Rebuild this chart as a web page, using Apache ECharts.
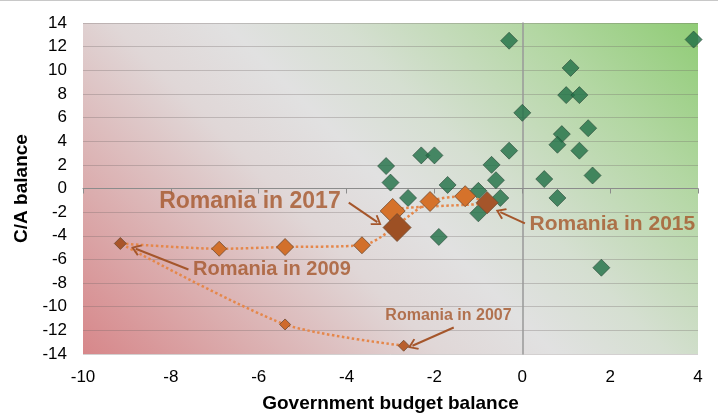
<!DOCTYPE html>
<html>
<head>
<meta charset="utf-8">
<script src="https://cdn.jsdelivr.net/npm/echarts@6/dist/echarts.min.js"></script>
<style>
	html, body { margin: 0; padding: 0; background: #fff; }
	#chart { width: 718px; height: 418px; }
</style>
</head>
<body>
<div id="chart"></div>
<script>
// other countries (budget balance, C/A balance)
const otherX = [-0.3, 3.9, 1.1, 1.0, 1.3, 0.0, 1.5, 0.9, 0.8, 1.3, -0.3, 1.6, 0.5, 0.8,
	-3.1, -2.3, -2.0, -0.7, -3.0, -1.7, -0.6, -2.6, -1.0, -0.5, -1.0, -1.9, 1.8]
const otherY = [12.5, 12.6, 10.2, 7.9, 7.9, 6.4, 5.1, 4.6, 3.7, 3.2, 3.2, 1.1, 0.8, -0.8,
	1.9, 2.8, 2.8, 2.0, 0.5, 0.3, 0.7, -0.8, -0.2, -0.8, -2.1, -4.1, -6.7]

// Romania 2007..2017
const romaniaYears = [2007, 2008, 2009, 2010, 2011, 2012, 2013, 2014, 2015, 2016, 2017]
const romaniaX = [-2.7, -5.4, -9.15, -6.9, -5.4, -3.65, -2.1, -1.3, -0.8, -2.95, -2.85]
const romaniaY = [-13.3, -11.5, -4.65, -5.1, -4.95, -4.8, -1.1, -0.65, -1.2, -1.9, -3.3]

const xTicks = { min: -10, max: 4, interval: 2 }
const yTicks = { min: -14, max: 14, interval: 2 }

// marker look per year
const romaniaSize = [11, 11, 12, 15, 17, 17, 20, 21, 22, 25, 28]
const romaniaColor = ["#b9602e", "#cf6a2c", "#a9552a", "#d2702b", "#d2702b", "#d2702b",
	"#d5722b", "#d5722b", "#a5552a", "#d5722b", "#9d5024"]

// callouts: label text, label centre, arrow start, arrow end (data coords)
const notes = [
	{ text: "Romania in 2017", at: [-6.2, -1.1], from: [-3.95, -1.2], to: [-3.3, -2.85], size: 23 },
	{ text: "Romania in 2015", at: [2.05, -3.05], from: [0.06, -2.95], to: [-0.5, -2.0], size: 21 },
	{ text: "Romania in 2009", at: [-5.7, -6.85], from: [-7.6, -6.85], to: [-8.8, -5.1], size: 20 },
	{ text: "Romania in 2007", at: [-1.68, -10.72], from: [-1.56, -11.76], to: [-2.5, -13.3], size: 16 }
]

const chart = echarts.init(document.getElementById("chart"))
const FONT = "'Liberation Sans', Arial, sans-serif"
const NOTE = "#a5562b"
const chevron = "path://M5,0 L10,7 L8.8,8 L5,2.6 L1.2,8 L0,7 Z"

// 45 degree (in pixels) wash from red bottom-left to green top-right
const W = 615, H = 332
const wash = new echarts.graphic.LinearGradient(0, 1, (W + H) / (2 * W), 1 - (W + H) / (2 * H), [
	{ offset: 0, color: "#d7878a" },
	{ offset: 0.18, color: "#dbadae" },
	{ offset: 0.38, color: "#e0d7d7" },
	{ offset: 0.5, color: "#e1e1e1" },
	{ offset: 0.62, color: "#d5dfd1" },
	{ offset: 0.82, color: "#b3d7a3" },
	{ offset: 1, color: "#90cc76" }
])

const option = {
	backgroundColor: "#fff",
	animation: false,
	textStyle: { fontFamily: FONT },
	graphic: [
		{ type: "rect", shape: { x: 0, y: 0, width: 718, height: 1 }, style: { fill: "#c8c8c8" } }
	],
	grid: {
		left: 83,
		right: 20,
		top: 23,
		bottom: 63,
		show: true,
		borderWidth: 0,
		backgroundColor: wash
	},
	xAxis: [
		{
			type: "value",
			...xTicks,
			position: "bottom",
			axisLine: { onZero: true, lineStyle: { color: "#8c8c8c", width: 1 } },
			axisTick: { show: true, length: 5, lineStyle: { color: "#8c8c8c" } },
			axisLabel: { show: false },
			splitLine: { show: false }
		},
		{
			type: "value",
			...xTicks,
			position: "bottom",
			axisLine: { show: false, onZero: false },
			axisTick: { show: false },
			splitLine: { show: false },
			axisLabel: { fontSize: 17, color: "#000", margin: 15, fontFamily: FONT },
			name: "Government budget balance",
			nameLocation: "middle",
			nameGap: 40,
			nameTextStyle: { fontSize: 19, fontWeight: "bold", color: "#000", fontFamily: FONT }
		}
	],
	yAxis: [
		{
			type: "value",
			...yTicks,
			position: "left",
			axisLine: { show: false, onZero: false },
			axisTick: { show: false },
			axisLabel: { fontSize: 17, color: "#000", margin: 16, fontFamily: FONT },
			splitLine: { show: true, lineStyle: { color: "rgba(110,100,100,0.3)", width: 1 } },
			name: "C/A balance",
			nameLocation: "middle",
			nameGap: 52,
			nameTextStyle: { fontSize: 19, fontWeight: "bold", color: "#000", fontFamily: FONT }
		},
		{
			type: "value",
			...yTicks,
			position: "left",
			axisLine: { onZero: true, lineStyle: { color: "#999", width: 1.5 } },
			axisTick: { show: false },
			axisLabel: { show: false },
			splitLine: { show: false }
		}
	],
	series: [
		{
			name: "Other countries",
			type: "scatter",
			symbol: "diamond",
			symbolSize: 17,
			itemStyle: { color: "#1f6f46", borderColor: "#2b4a38", borderWidth: 0.8 },
			data: otherX.map((x, i) => [x, otherY[i]]),
			z: 3,
			markLine: {
				silent: true,
				symbol: ["none", chevron],
				symbolSize: [12, 10],
				label: { show: false },
				lineStyle: { color: NOTE, width: 2, type: "solid" },
				data: notes.map(n => [{ coord: n.from }, { coord: n.to }])
			}
		},
		{
			name: "Romania",
			type: "line",
			smooth: 0.25,
			symbol: "diamond",
			lineStyle: { color: "#e5874a", width: 2.5, type: "dotted" },
			itemStyle: { borderColor: "#6e4a30", borderWidth: 0.8 },
			data: romaniaX.map((x, i) => ({
				name: String(romaniaYears[i]),
				value: [x, romaniaY[i]],
				symbolSize: romaniaSize[i],
				itemStyle: { color: romaniaColor[i] }
			})),
			z: 4
		},
		{
			name: "notes",
			type: "scatter",
			symbolSize: 0,
			silent: true,
			label: {
				show: true,
				position: "inside",
				color: NOTE,
				fontWeight: "bold",
				fontFamily: FONT,
				formatter: p => p.data.text
			},
			data: notes.map(n => ({ value: n.at, text: n.text, label: { fontSize: n.size } })),
			z: 5
		}
	]
}
chart.setOption(option)
</script>
</body>
</html>
